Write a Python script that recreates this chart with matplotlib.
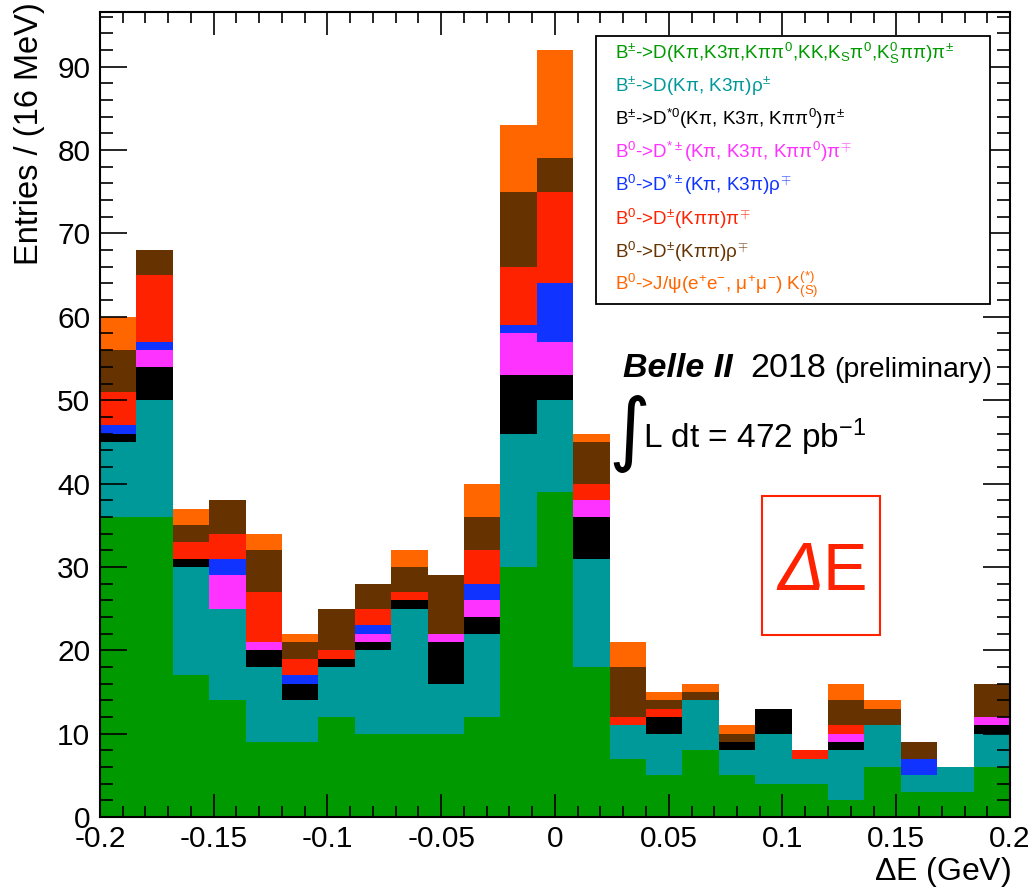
import numpy as np
import matplotlib
matplotlib.use("Agg")
import matplotlib.pyplot as plt
from matplotlib.patches import Rectangle

plt.rcParams["font.family"] = ["Liberation Sans", "DejaVu Sans"]
# upright letters inside math too (pi, rho, K_S ...)
plt.rcParams["mathtext.fontset"] = "custom"
plt.rcParams["mathtext.rm"] = "Liberation Sans"
plt.rcParams["mathtext.it"] = "Liberation Sans"
plt.rcParams["mathtext.bf"] = "Liberation Sans:bold"

# Delta E binning: 25 bins of 16 MeV
E_MIN, E_MAX, N_BINS = -0.2, 0.2, 25

# per-bin entries for each decay mode (stacked bottom -> top)
b_dpi      = [36, 36, 17, 14, 9, 9, 12, 10, 10, 10, 12, 30, 39, 18, 7, 5, 8, 5, 4, 4, 2, 6, 3, 3, 6]
b_drho     = [9, 14, 13, 11, 9, 5, 6, 10, 15, 6, 10, 16, 11, 13, 4, 5, 6, 3, 6, 3, 6, 5, 2, 3, 4]
b_dstar0pi = [1, 4, 1, 0, 2, 2, 1, 1, 1, 5, 2, 7, 3, 5, 0, 2, 0, 1, 3, 0, 1, 0, 0, 0, 1]
b0_dstpi   = [0, 2, 0, 4, 1, 0, 0, 1, 0, 1, 2, 5, 4, 2, 0, 0, 0, 0, 0, 0, 1, 0, 0, 0, 1]
b0_dstrho  = [1, 1, 0, 2, 0, 1, 0, 1, 0, 0, 2, 1, 7, 0, 0, 0, 0, 0, 0, 0, 0, 0, 2, 0, 0]
b0_dpi     = [4, 8, 2, 3, 6, 2, 1, 2, 1, 0, 4, 7, 11, 2, 1, 1, 0, 0, 0, 1, 1, 0, 0, 0, 0]
b0_drho    = [5, 3, 2, 4, 5, 2, 5, 3, 3, 7, 4, 9, 4, 5, 6, 1, 1, 1, 0, 0, 3, 2, 2, 0, 4]
b0_jpsik   = [4, 0, 2, 0, 2, 1, 0, 0, 2, 0, 4, 8, 13, 1, 3, 1, 1, 1, 0, 0, 2, 1, 0, 0, 0]

series = [b_dpi, b_drho, b_dstar0pi, b0_dstpi, b0_dstrho, b0_dpi, b0_drho, b0_jpsik]
colors = ["#009900", "#009999", "#000000", "#ff33ff", "#1133ff", "#ff2200", "#663300", "#ff6600"]
labels = [
    r"B$^{\pm}$->D(K$\pi$,K3$\pi$,K$\pi\pi^{0}$,KK,K$_{S}\pi^{0}$,K$_{S}^{0}\pi\pi$)$\pi^{\pm}$",
    r"B$^{\pm}$->D(K$\pi$, K3$\pi$)$\rho^{\pm}$",
    r"B$^{\pm}$->D$^{*0}$(K$\pi$, K3$\pi$, K$\pi\pi^{0}$)$\pi^{\pm}$",
    r"B$^{0}$->D$^{*\pm}$(K$\pi$, K3$\pi$, K$\pi\pi^{0}$)$\pi^{\mp}$",
    r"B$^{0}$->D$^{*\pm}$(K$\pi$, K3$\pi$)$\rho^{\mp}$",
    r"B$^{0}$->D$^{\pm}$(K$\pi\pi$)$\pi^{\mp}$",
    r"B$^{0}$->D$^{\pm}$(K$\pi\pi$)$\rho^{\mp}$",
    r"B$^{0}$->J/$\psi$(e$^{+}$e$^{-}$, $\mu^{+}\mu^{-}$) K$^{(*)}_{(S)}$",
]

W, H = 1036, 891
fig = plt.figure(figsize=(W / 100, H / 100), dpi=100)
ax = fig.add_axes([100 / W, 74 / H, 910 / W, 805.3 / H])


def px(x, y):
    return x / W, 1 - y / H


edges = np.linspace(E_MIN, E_MAX, N_BINS + 1)
bottom = np.zeros(N_BINS)
for vals, col in zip(series, colors):
    vals = np.asarray(vals, dtype=float)
    ax.stairs(bottom + vals, edges, baseline=bottom, fill=True, color=col, lw=0)
    bottom += vals

ax.set_xlim(E_MIN, E_MAX)
ax.set_ylim(0, 96.6)
ax.set_xticks(np.arange(-0.2, 0.201, 0.05))
ax.set_xticklabels(["-0.2", "-0.15", "-0.1", "-0.05", "0", "0.05", "0.1", "0.15", "0.2"])
ax.set_xticks(np.arange(-0.2, 0.201, 0.01), minor=True)
ax.set_yticks(np.arange(0, 91, 10))
ax.set_yticks(np.arange(0, 97, 2), minor=True)
ax.tick_params(which="both", direction="in", top=True, right=True, width=1.2,
               labelsize=21.5, colors="black")
ax.tick_params(axis="y", which="major", length=19.5, pad=7)
ax.tick_params(axis="y", which="minor", length=9.5)
ax.tick_params(axis="x", which="major", length=16.5, pad=6)
ax.tick_params(axis="x", which="minor", length=8)
for s in ax.spines.values():
    s.set_linewidth(1.5)

fig.text(*px(1011, 880), r"$\Delta$E (GeV)", fontsize=23, ha="right", va="baseline")
fig.text(*px(30, 2), "Entries / (16 MeV)", fontsize=23.5, rotation=90,
         ha="center", va="top")

# legend: coloured text only, framed
fig.add_artist(Rectangle(px(596, 304), 394 / W, 268 / H, transform=fig.transFigure,
                         facecolor="white", edgecolor="black", lw=1.3))
for i, (lab, col) in enumerate(zip(labels, colors)):
    fig.text(*px(615, 53 + i * 33.1), lab, color=col, fontsize=13.6, va="center")

# experiment label
fig.text(*px(623, 377), "Belle II", fontsize=24.5, fontweight="bold", style="italic",
         va="baseline")
fig.text(*px(750, 377), "2018", fontsize=24.5, va="baseline")
fig.text(*px(834, 377), "(preliminary)", fontsize=20.5, va="baseline")
fig.text(*px(629, 434), "\u222b", fontsize=58, family="DejaVu Sans", ha="center", va="center")
fig.text(*px(643, 448), r"L dt = 472 pb$^{-1}$", fontsize=24, va="baseline")

# Delta E tag
fig.add_artist(Rectangle(px(762, 635), 118 / W, 139 / H, transform=fig.transFigure,
                         facecolor="none", edgecolor="#ff2200", lw=1.5))
fig.text(*px(777, 590), "\u0394", fontsize=50, style="italic", color="#ff2200", va="baseline")
fig.text(*px(822, 590), "E", fontsize=48, color="#ff2200", va="baseline")

fig.savefig("out.png", dpi=100)
